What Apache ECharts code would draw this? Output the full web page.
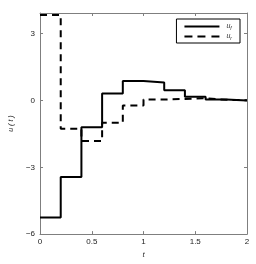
<!DOCTYPE html>
<html>
<head>
<meta charset="utf-8">
<script src="https://cdn.jsdelivr.net/npm/echarts@6/dist/echarts.min.js"></script>
<style>html,body{margin:0;padding:0;background:#fff;}#c{width:256px;height:264px;}</style>
</head>
<body>
<div id="c"></div>
<script>
// time grid (step starts), piecewise-constant values
const tGrid = [0, 0.2, 0.4, 0.6, 0.8, 1.0, 1.2, 1.4, 1.6, 1.8, 2.0];
const uF = [-5.25, -3.44, -1.2, 0.32, 0.88, 0.81, 0.46, 0.17, 0.04, 0.0, 0.0];
const uR = [3.84, -1.27, -1.82, -1.0, -0.22, 0.04, 0.07, 0.1, 0.03, 0.01, 0.01];
const xTicks = [0, 0.5, 1, 1.5, 2];
const yTicks = [-6, -3, 0, 3];

const chart = echarts.init(document.getElementById('c'), null, {renderer: 'canvas'});
const frame = '#7f7f7f';
const font = 'Liberation Sans';
const pair = (ts, vs) => ts.map((t, i) => [t, vs[i]]);

const baseAxisX = {
  type: 'value', min: 0, max: 2, interval: 0.5,
  axisLine: {show: true, onZero: false, lineStyle: {color: frame, width: 1}},
  axisTick: {show: true, inside: true, length: 3, lineStyle: {color: frame}},
  splitLine: {show: false}
};
const baseAxisY = {
  type: 'value', min: -6, max: 3.93, interval: 3,
  axisLine: {show: true, onZero: false, lineStyle: {color: frame, width: 1}},
  axisTick: {show: true, inside: true, length: 3, lineStyle: {color: frame}},
  splitLine: {show: false}
};

chart.setOption({
  animation: false,
  backgroundColor: '#fff',
  grid: {left: 33, right: 9, top: 13, bottom: 26, containLabel: false},
  xAxis: [
    Object.assign({}, baseAxisX, {
      position: 'bottom',
      name: 't', nameLocation: 'middle', nameGap: 15,
      nameTextStyle: {fontFamily: font, fontSize: 8, fontStyle: 'italic', color: '#333'},
      axisLabel: {show: true, fontFamily: font, fontSize: 8, color: '#222', margin: 4,
        formatter: v => xTicks.indexOf(+v.toFixed(2)) >= 0 ? String(v) : ''}
    }),
    Object.assign({}, baseAxisX, {position: 'top', axisLabel: {show: false}})
  ],
  yAxis: [
    Object.assign({}, baseAxisY, {
      position: 'left',
      name: 'u ( t )', nameLocation: 'middle', nameGap: 21, nameRotate: 90,
      nameTextStyle: {fontFamily: font, fontSize: 7, fontStyle: 'italic', color: '#333'},
      axisLabel: {show: true, fontFamily: font, fontSize: 8, color: '#222', margin: 5,
        formatter: v => yTicks.indexOf(Math.round(v * 100) / 100) >= 0 ? String(v).replace('-', '\u2212') : ''}
    }),
    Object.assign({}, baseAxisY, {position: 'right', axisLabel: {show: false}})
  ],
  legend: {
    right: 16, top: 19, orient: 'vertical',
    backgroundColor: '#fff', borderColor: '#000', borderWidth: 1,
    padding: [3, 8, 2, 8], itemGap: 1, itemWidth: 35, itemHeight: 2,
    textStyle: {fontFamily: font, fontSize: 7, color: '#333', lineHeight: 9, padding: [0, 0, 0, 2],
      rich: {i: {fontStyle: 'italic', fontSize: 7, fontFamily: font, color: '#333'},
             s: {fontStyle: 'italic', fontSize: 5, fontFamily: font, color: '#333', verticalAlign: 'bottom', padding: [3, 0, 0, 0]}}},
    formatter: name => name === 'uf' ? '{i|u}{s|f}' : '{i|u}{s|r}',
    data: [
      {name: 'uf', icon: 'path://M0,0L35,0L35,2L0,2Z'},
      {name: 'ur', icon: 'path://M0,0L8,0L8,2L0,2Z M13,0L21,0L21,2L13,2Z M27,0L35,0L35,2L27,2Z'}
    ]
  },
  series: [
    {
      name: 'uf', type: 'line', step: 'end', symbol: 'none',
      data: pair(tGrid, uF),
      lineStyle: {color: '#000', width: 2, type: 'solid'},
      itemStyle: {color: '#000'}
    },
    {
      name: 'ur', type: 'line', step: 'end', symbol: 'none',
      data: pair(tGrid, uR),
      lineStyle: {color: '#000', width: 2, type: [7, 5]},
      itemStyle: {color: '#000'}
    }
  ]
});
</script>
</body>
</html>
